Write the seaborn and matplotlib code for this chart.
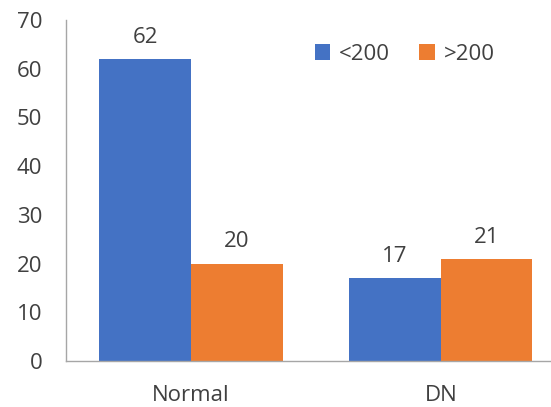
import matplotlib
matplotlib.use("Agg")
import matplotlib.pyplot as plt
import pandas as pd
import seaborn as sns

categories = ["Normal", "DN"]
groups = ["<200", ">200"]
low_values = [62, 17]
high_values = [20, 21]

BLUE = "#4472C4"
ORANGE = "#ED7D31"
TEXT_COLOR = "#404040"
SPINE_COLOR = "#A6A6A6"

df = pd.DataFrame({
    "Category": categories * 2,
    "Group": [groups[0]] * len(categories) + [groups[1]] * len(categories),
    "Value": low_values + high_values,
})

sns.set_style("white")
plt.rcParams["font.family"] = ["Open Sans", "DejaVu Sans"]

fig = plt.figure(figsize=(5.51, 4.07), dpi=100)
ax = fig.add_axes([0.1198, 0.113, 0.907, 0.838])

sns.barplot(
    data=df,
    x="Category",
    y="Value",
    hue="Group",
    palette=[BLUE, ORANGE],
    width=0.733,
    edgecolor="none",
    saturation=1,
    ax=ax,
)

for container in ax.containers:
    ax.bar_label(container, padding=8, fontsize=16, color=TEXT_COLOR)

ax.set_xlim(-0.5, 1.5)
ax.set_ylim(0, 70)
ax.set_yticks(range(0, 71, 10))
ax.set_xlabel("")
ax.set_ylabel("")
ax.tick_params(axis="both", length=0, labelsize=16, labelcolor=TEXT_COLOR)
ax.tick_params(axis="x", pad=17)
ax.tick_params(axis="y", pad=17)

for side in ["top", "right"]:
    ax.spines[side].set_visible(False)
for side in ["left", "bottom"]:
    ax.spines[side].set_color(SPINE_COLOR)
    ax.spines[side].set_linewidth(1)

ax.legend(
    loc="center left",
    bbox_to_anchor=(0.458, 0.9),
    ncol=2,
    frameon=False,
    fontsize=16,
    handlelength=0.7,
    handleheight=0.7,
    handletextpad=0.4,
    columnspacing=1.3,
    labelcolor=TEXT_COLOR,
)

fig.savefig("out.png", dpi=100)
